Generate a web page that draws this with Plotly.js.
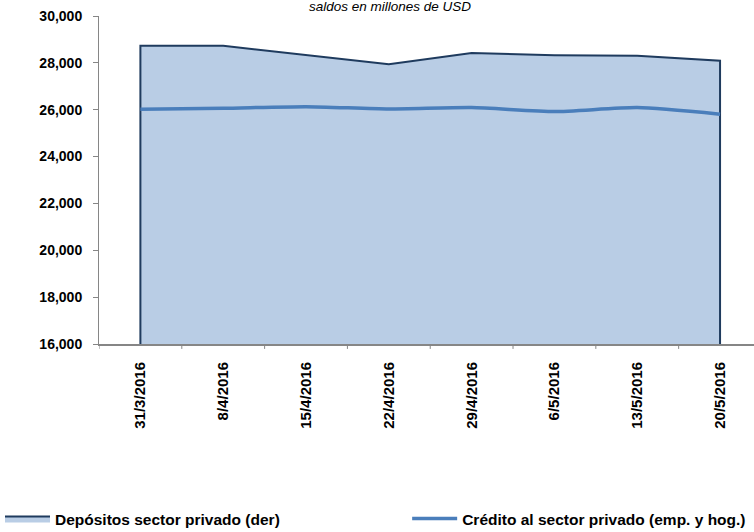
<!DOCTYPE html>
<html><head><meta charset="utf-8">
<script src="https://cdn.plot.ly/plotly-3.0.1.min.js"></script>
<style>body{margin:0;padding:0;background:#fff}#chart{width:754px;height:532px}</style>
</head><body><div id="chart"></div>
<script>
const categories = ["31/3/2016","8/4/2016","15/4/2016","22/4/2016","29/4/2016","6/5/2016","13/5/2016","20/5/2016"];
const depositos = [28730, 28730, 28350, 27940, 28420, 28330, 28300, 28090];
const credito = [26020, 26060, 26130, 26030, 26090, 25920, 26090, 25810];
const yTicks = [16000,18000,20000,22000,24000,26000,28000,30000];
const yMin = 16000, yMax = 30000;

const FONT = "'Liberation Sans', Arial, sans-serif";
const idx = categories.map((c,i)=>i);
const polyX = [idx[0]].concat(idx, [idx[idx.length-1]]);
const polyY = [yMin].concat(depositos, [yMin]);

const traces = [
  {x: polyX, y: polyY, type:'scatter', mode:'lines', fill:'toself', fillcolor:'#b9cde5',
   line:{color:'#1f3b5e', width:2}, name:'Depósitos sector privado (der)', hoverinfo:'skip', legend:'legend'},
  {x: idx, y: credito, type:'scatter', mode:'lines', line:{color:'#4a7ebb', width:3.5, shape:'spline', smoothing:0.6},
   name:'Crédito al sector privado (emp. y hog.)', legend:'legend2'}
];
const legFont = {size:15.5, family:FONT, color:'#000', weight:'bold'};
const layout = {
  width:754, height:532, margin:{l:99, r:0, t:16, b:188},
  paper_bgcolor:'#fff', plot_bgcolor:'#fff', showlegend:true,
  font:{family:FONT, color:'#000'},
  xaxis:{range:[-0.5, 7.41], tickmode:'array', tickvals:idx, ticktext:categories, tickangle:-90,
    showgrid:false, zeroline:false, showline:true, linecolor:'#868686', linewidth:2,
    ticks:'', ticklabelstandoff:10, tickfont:{size:15, family:FONT, color:'#000', weight:'bold'}, fixedrange:true},
  yaxis:{range:[yMin, yMax], tickmode:'array', tickvals:yTicks, ticktext:yTicks.map(v=>v.toLocaleString('en-US')),
    showgrid:false, zeroline:false, showline:true, linecolor:'#868686', linewidth:1, ticklabelstandoff:8,
    ticks:'outside', ticklen:5, tickcolor:'#868686', tickfont:{size:14, family:FONT, color:'#000', weight:'bold'}, fixedrange:true},
  legend:{orientation:'h', xref:'container', yref:'container', x:0.0, xanchor:'left', y:0.0244, yanchor:'middle', font:legFont, itemwidth:45},
  legend2:{orientation:'h', xref:'container', yref:'container', x:0.540, xanchor:'left', y:0.0244, yanchor:'middle', font:legFont, itemwidth:45},
  annotations:[{text:'<i>saldos en millones de USD</i>', xref:'paper', yref:'paper', x:0.444, y:1.0, xanchor:'center', yanchor:'middle', yshift:10, showarrow:false,
    font:{size:13.5, family:FONT, color:'#000'}}],
  shapes: categories.map((c,i)=>({type:'line', xref:'x', yref:'y domain', x0:i-0.5, x1:i-0.5, y0:0, y1:-0.015, line:{color:'#868686', width:1}}))
};
Plotly.newPlot('chart', traces, layout, {staticPlot:true});
</script></body></html>
